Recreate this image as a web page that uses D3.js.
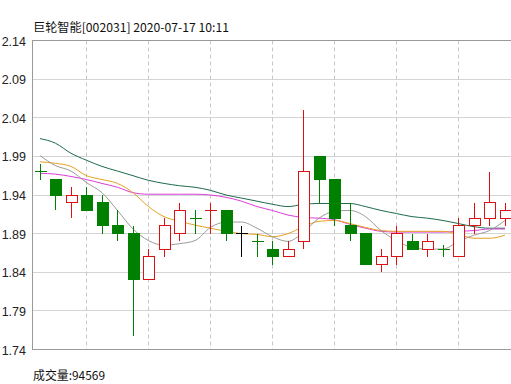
<!DOCTYPE html>
<html><head><meta charset="utf-8">
<script src="https://cdn.jsdelivr.net/npm/d3@7/dist/d3.min.js"></script>
<style>html,body{margin:0;padding:0;background:#fff;}svg{display:block;}</style>
</head><body>
<svg id="c" width="511" height="384"></svg>
<script>
const title = "巨轮智能[002031] 2020-07-17 10:11";
const volumeLabel = "成交量:94569";
const yTicks = [2.14, 2.09, 2.04, 1.99, 1.94, 1.89, 1.84, 1.79, 1.74];
const prevClose0 = 1.98;
const open  = [1.97,1.96,1.93,1.94,1.93,1.90,1.89,1.83,1.87,1.89,1.91,1.92,1.92,1.89,1.88,1.87,1.86,1.88,1.99,1.96,1.90,1.89,1.85,1.86,1.88,1.87,1.87,1.86,1.90,1.91,1.91];
const high  = [1.98,1.96,1.95,1.95,1.94,1.92,1.90,1.87,1.91,1.93,1.92,1.93,1.92,1.90,1.89,1.88,1.88,2.05,1.99,1.96,1.93,1.89,1.87,1.90,1.89,1.89,1.875,1.91,1.93,1.97,1.93];
const low   = [1.96,1.92,1.91,1.92,1.89,1.88,1.757,1.83,1.86,1.88,1.89,1.89,1.88,1.86,1.86,1.85,1.86,1.87,1.93,1.90,1.88,1.85,1.84,1.85,1.87,1.86,1.86,1.86,1.89,1.90,1.90];
const close = [1.97,1.94,1.94,1.92,1.90,1.89,1.83,1.86,1.90,1.92,1.91,1.92,1.89,1.89,1.88,1.86,1.87,1.97,1.96,1.91,1.89,1.85,1.86,1.89,1.87,1.88,1.87,1.90,1.91,1.93,1.92];
const maGray   = [1.991,1.978,1.971,1.956,1.943,1.920,1.896,1.881,1.875,1.877,1.881,1.898,1.905,1.905,1.897,1.886,1.880,1.892,1.910,1.919,1.920,1.912,1.894,1.881,1.872,1.870,1.870,1.880,1.888,1.894,1.907];
const maOrange = [1.983,1.981,1.977,1.965,1.960,1.955,1.943,1.925,1.912,1.906,1.901,1.897,1.893,1.890,1.889,1.886,1.890,1.899,1.906,1.907,1.903,1.898,1.894,1.893,1.893,1.893,1.893,1.889,1.884,1.884,1.888];
const maMagenta= [1.968,1.967,1.964,1.960,1.955,1.950,1.943,1.941,1.941,1.941,1.941,1.940,1.937,1.932,1.925,1.920,1.914,1.911,1.910,1.908,1.902,1.897,1.893,1.892,1.892,1.892,1.892,1.893,1.894,1.896,1.896];
const maGreen  = [2.013,2.007,1.994,1.985,1.977,1.971,1.965,1.959,1.955,1.952,1.950,1.946,1.940,1.936,1.932,1.928,1.925,1.928,1.929,1.929,1.929,1.925,1.920,1.916,1.912,1.910,1.907,1.903,1.899,1.897,1.897];

const svg = d3.select("#c");
const L = 32, R = 511, T = 40.5, B = 349.5;
const idx = d3.range(open.length);
const x = d3.scalePoint().domain(idx).range([40, 505]);
const y = d3.scaleLinear().domain([1.74, 2.14]).range([B, T]);
const hp = v => Math.round(v - 0.5) + 0.5;

// horizontal grid
svg.append("g").selectAll("line").data(yTicks.filter(t => t !== 2.14 && t !== 1.74)).join("line")
  .attr("x1", L).attr("x2", R).attr("y1", d => hp(y(d))).attr("y2", d => hp(y(d)))
  .attr("stroke", "#d4d4d4").attr("stroke-width", 1);
// vertical dashed grid every 4 candles
svg.append("g").selectAll("line").data(idx.filter(i => i % 4 === 3)).join("line")
  .attr("x1", d => hp(x(d))).attr("x2", d => hp(x(d))).attr("y1", T).attr("y2", B)
  .attr("stroke", "#c8c8c8").attr("stroke-dasharray", "4,3");
// frame
svg.append("line").attr("x1", L).attr("x2", R).attr("y1", hp(y(2.14))).attr("y2", hp(y(2.14))).attr("stroke", "#9a9a9a");
svg.append("line").attr("x1", L).attr("x2", R).attr("y1", hp(y(1.74))).attr("y2", hp(y(1.74))).attr("stroke", "#9a9a9a");
svg.append("line").attr("x1", L + 0.5).attr("x2", L + 0.5).attr("y1", T).attr("y2", B).attr("stroke", "#9a9a9a");

// y axis labels
const ax = svg.append("g").attr("transform", `translate(${L - 3},0)`)
  .call(d3.axisLeft(y).tickValues(yTicks).tickSize(0).tickFormat(d3.format(".2f")));
ax.select(".domain").remove();
ax.selectAll("text").attr("font-family", "Liberation Sans, Arial, sans-serif").attr("font-size", "12.5px").attr("fill", "#222").attr("dy", "0.36em");

// MA lines
const lineGen = d3.line().x((d, i) => x(i)).y(d => y(d)).curve(d3.curveMonotoneX);
const mas = [[maGreen, "#1e6b4a"], [maMagenta, "#dc3cdc"], [maOrange, "#e8a020"], [maGray, "#9a9a9a"]];
mas.forEach(([arr, col]) => {
  svg.append("path").datum(arr).attr("d", lineGen).attr("fill", "none").attr("stroke", col).attr("stroke-width", 1);
});

// candles
const RED = "#dd1111", GREEN = "#008000";
const cg = svg.append("g").attr("shape-rendering", "crispEdges");
idx.forEach(i => {
  const o = open[i], c = close[i], h = high[i], l = low[i];
  const pc = i === 0 ? prevClose0 : close[i - 1];
  let col;
  if (c > o) col = RED; else if (c < o) col = GREEN;
  else col = c > pc ? RED : (c < pc ? GREEN : "#000");
  const cx = hp(x(i));
  const top = Math.max(o, c), bot = Math.min(o, c);
  const yt = hp(y(top)), yb = hp(y(bot));
  if (o === c) {
    cg.append("line").attr("x1", cx).attr("x2", cx).attr("y1", y(h)).attr("y2", y(l)).attr("stroke", col);
    cg.append("line").attr("x1", cx - 6).attr("x2", cx + 6).attr("y1", yt).attr("y2", yt).attr("stroke", col);
  } else {
    if (h > top) cg.append("line").attr("x1", cx).attr("x2", cx).attr("y1", y(h)).attr("y2", yt).attr("stroke", col);
    if (l < bot) cg.append("line").attr("x1", cx).attr("x2", cx).attr("y1", yb).attr("y2", y(l)).attr("stroke", col);
    cg.append("rect").attr("x", cx - 5.5).attr("y", yt).attr("width", 11).attr("height", Math.max(1, yb - yt))
      .attr("fill", c > o ? "#fff" : col).attr("stroke", col).attr("stroke-width", 1);
  }
});

// title and volume
svg.append("text").attr("x", 33).attr("y", 32).attr("font-family", "Noto Sans CJK SC, sans-serif").attr("font-size", "12px")
  .attr("fill", "#111").attr("textLength", 196).attr("lengthAdjust", "spacingAndGlyphs").text(title);
svg.append("text").attr("x", 33).attr("y", 380).attr("font-family", "Noto Sans CJK SC, sans-serif").attr("font-size", "12px")
  .attr("fill", "#111").attr("textLength", 72).attr("lengthAdjust", "spacingAndGlyphs").text(volumeLabel);
</script>
</body></html>
